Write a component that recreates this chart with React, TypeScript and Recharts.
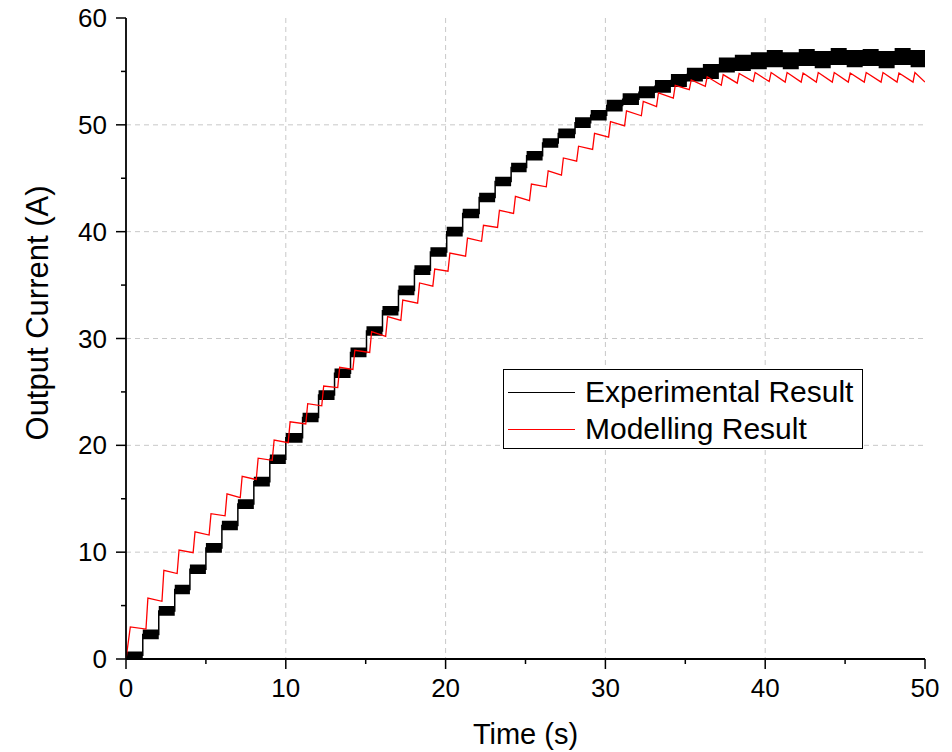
import { Area, CartesianGrid, ComposedChart, Line, XAxis, YAxis } from "recharts";

// experimental result: one step per second
const expStepTimes = [
  0, 1.05, 2.05, 3.05, 4.0, 5.0, 6.0, 7.0, 8.0, 9.0,
  10.0, 11.05, 12.05, 13.05, 14.05, 15.05, 16.05, 17.05, 18.05, 19.05,
  20.07, 21.07, 22.1, 23.1, 24.1, 25.07, 26.07, 27.05, 28.1, 29.08,
  30.08, 31.08, 32.1, 33.1, 34.1, 35.1, 36.1, 37.1, 38.1, 39.1,
  40.1, 41.1, 42.1, 43.1, 44.1, 45.1, 46.1, 47.1, 48.1, 49.1,
];
const expLevels = [
  0.35, 2.3, 4.5, 6.5, 8.4, 10.4, 12.5, 14.5, 16.6, 18.7,
  20.7, 22.6, 24.7, 26.75, 28.7, 30.7, 32.6, 34.5, 36.4, 38.1,
  40.0, 41.7, 43.2, 44.7, 46.0, 47.1, 48.3, 49.2, 50.2, 50.9,
  51.8, 52.4, 53.05, 53.6, 54.15, 54.7, 55.0, 55.6, 55.8, 56.0,
  56.2, 56.0, 56.3, 56.1, 56.4, 56.2, 56.3, 56.1, 56.4, 56.2,
];
// half height of the noisy band on each step
const expNoise = [
  0.35, 0.45, 0.45, 0.45, 0.45, 0.45, 0.45, 0.45, 0.45, 0.45,
  0.45, 0.45, 0.45, 0.45, 0.45, 0.45, 0.45, 0.45, 0.45, 0.45,
  0.45, 0.45, 0.45, 0.45, 0.45, 0.45, 0.45, 0.45, 0.5, 0.5,
  0.55, 0.55, 0.55, 0.6, 0.6, 0.65, 0.7, 0.7, 0.75, 0.8,
  0.8, 0.8, 0.8, 0.8, 0.8, 0.8, 0.8, 0.8, 0.8, 0.8,
];

// modelling result: sawtooth steps, peak after each rise, trough before the next
const modelRiseTimes = [
  0.15, 1.25, 2.25, 3.2, 4.2, 5.2, 6.2, 7.15, 8.15, 9.15,
  10.15, 11.25, 12.25, 13.25, 14.2, 15.25, 16.25, 17.2, 18.25, 19.2,
  20.15, 21.25, 22.25, 23.25, 24.25, 25.25, 26.3, 27.25, 28.2, 29.2,
  30.2, 31.2, 32.25, 33.2, 34.25, 35.25, 36.25, 37.25, 38.25, 39.25,
  40.25, 41.25, 42.25, 43.2, 44.2, 45.2, 46.2, 47.25, 48.25, 49.25,
];
const modelPeaks = [
  3.0, 5.7, 8.3, 10.2, 11.9, 13.6, 15.45, 17.1, 18.8, 20.5,
  22.2, 23.9, 25.55, 27.3, 28.9, 30.65, 32.05, 33.6, 35.2, 36.5,
  38.0, 39.4, 40.6, 42.0, 43.3, 44.45, 45.7, 46.9, 48.0, 49.2,
  50.3, 51.3, 52.2, 53.0, 53.7, 54.2, 54.5, 54.7, 54.8, 54.9,
  54.9, 54.9, 54.85, 54.9, 54.9, 54.85, 54.9, 54.9, 54.85, 54.9,
];
const modelTroughs = [
  2.8, 5.4, 8.0, 9.95, 11.6, 13.4, 15.1, 16.8, 18.6, 20.25,
  22.0, 23.7, 25.4, 27.1, 28.7, 30.2, 31.7, 33.3, 34.9, 36.3,
  37.7, 39.1, 40.4, 41.7, 42.9, 44.2, 45.3, 46.6, 47.7, 48.85,
  49.9, 50.85, 51.7, 52.5, 53.3, 53.6, 53.7, 53.9, 54.05, 54.05,
  54.0, 54.0, 54.0, 54.0, 54.0, 54.0, 54.0, 54.0, 54.0, 54.0,
];

const xTicks = [0, 5, 10, 15, 20, 25, 30, 35, 40, 45, 50];
const yTicks = [0, 5, 10, 15, 20, 25, 30, 35, 40, 45, 50, 55, 60];
const xGrid = [10, 20, 30, 40];
const yGrid = [10, 20, 30, 40, 50];

const FONT = '"Liberation Sans", Arial, sans-serif';
const RISE = 0.12;

const expData = expStepTimes.map((t, i) => ({
  t,
  level: expLevels[i],
  band: [expLevels[i] - expNoise[i], expLevels[i] + expNoise[i]],
}));
const lastExp = expData[expData.length - 1];
expData.push({ ...lastExp, t: 50 });

const modelData: { t: number; current: number }[] = [{ t: 0, current: 0 }];
modelRiseTimes.forEach((rt, i) => {
  modelData.push({ t: rt + RISE, current: modelPeaks[i] });
  const end = i + 1 < modelRiseTimes.length ? modelRiseTimes[i + 1] : 50;
  modelData.push({ t: end, current: modelTroughs[i] });
});

const isMajor = (v: number) => v % 10 === 0;

function BottomTick({ x, y, payload }: any) {
  const major = isMajor(payload.value);
  return (
    <g>
      <line x1={x} x2={x} y1={y} y2={y + (major ? 10 : 5)} stroke="#000" strokeWidth={1.5} />
      {major && (
        <text x={x} y={y + 38} textAnchor="middle" fontSize={26} fontFamily={FONT} fill="#000">
          {payload.value}
        </text>
      )}
    </g>
  );
}

function LeftTick({ x, y, payload }: any) {
  const major = isMajor(payload.value);
  return (
    <g>
      <line x1={x} x2={x - (major ? 10 : 5)} y1={y} y2={y} stroke="#000" strokeWidth={1.5} />
      {major && (
        <text x={x - 19} y={y + 9} textAnchor="end" fontSize={26} fontFamily={FONT} fill="#000">
          {payload.value}
        </text>
      )}
    </g>
  );
}

function TopTick({ x, y, payload }: any) {
  const len = isMajor(payload.value) ? 10 : 5;
  return <line x1={x} x2={x} y1={y} y2={y + len} stroke="#000" strokeWidth={1.5} />;
}

function RightTick({ x, y, payload }: any) {
  const len = isMajor(payload.value) ? 10 : 5;
  return <line x1={x} x2={x - len} y1={y} y2={y} stroke="#000" strokeWidth={1.5} />;
}

function XTitle({ viewBox }: any) {
  return (
    <text x={viewBox.x + viewBox.width / 2} y={viewBox.y + 85} textAnchor="middle" fontSize={29} fontFamily={FONT} fill="#000">
      Time (s)
    </text>
  );
}

function YTitle({ viewBox }: any) {
  const cx = viewBox.x + 29;
  const cy = 305;
  return (
    <text x={cx} y={cy} transform={`rotate(-90 ${cx} ${cy})`} textAnchor="middle" dominantBaseline="central" fontSize={31} fontFamily={FONT} fill="#000">
      Output Current (A)
    </text>
  );
}

function ChartLegend() {
  const row = (color: string, label: string, top: number) => (
    <div style={{ position: "absolute", left: 0, top, height: 30, width: "100%" }}>
      <div style={{ position: "absolute", left: 4, top: 14, width: 67, height: 0, borderTop: `1.5px solid ${color}` }} />
      <span style={{ position: "absolute", left: 81, top: -3, fontSize: 30, lineHeight: "34px", whiteSpace: "nowrap" }}>{label}</span>
    </div>
  );
  return (
    <div
      style={{
        position: "absolute",
        left: 495,
        top: 361,
        width: 358,
        height: 78,
        border: "1px solid #000",
        background: "#fff",
        fontFamily: FONT,
        color: "#000",
      }}
    >
      {row("#000", "Experimental Result", 8)}
      {row("#ff0000", "Modelling Result", 45)}
    </div>
  );
}

export default function App() {
  return (
    <div style={{ position: "relative", width: 936, height: 744, fontFamily: FONT }}>
      <ComposedChart
        width={936}
        height={744}
        margin={{ top: 10, right: 19, bottom: 0, left: 0 }}
        style={{ overflow: "visible" }}
      >
        <CartesianGrid
          horizontalValues={yGrid}
          verticalValues={xGrid}
          stroke="#c8c8c8"
          strokeDasharray="5 4"
        />
        <XAxis
          dataKey="t"
          type="number"
          domain={[0, 50]}
          ticks={xTicks}
          allowDataOverflow
          height={93}
          tickSize={0}
          tickMargin={0}
          tick={<BottomTick />}
          axisLine={{ stroke: "#000", strokeWidth: 1.8 }}
          label={XTitle}
        />
        <XAxis
          xAxisId="top"
          orientation="top"
          type="number"
          domain={[0, 50]}
          ticks={xTicks}
          height={0}
          tickSize={0}
          tickMargin={0}
          tick={<TopTick />}
          axisLine={{ stroke: "#000", strokeWidth: 1.8 }}
        />
        <YAxis
          type="number"
          domain={[0, 60]}
          ticks={yTicks}
          allowDataOverflow
          width={118}
          tickSize={0}
          tickMargin={0}
          tick={<LeftTick />}
          axisLine={{ stroke: "#000", strokeWidth: 1.8 }}
          label={YTitle}
        />
        <YAxis
          yAxisId="right"
          orientation="right"
          type="number"
          domain={[0, 60]}
          ticks={yTicks}
          width={0}
          tickSize={0}
          tickMargin={0}
          tick={<RightTick />}
          axisLine={{ stroke: "#000", strokeWidth: 1.8 }}
        />
        <Area
          data={expData}
          dataKey="band"
          type="stepAfter"
          fill="#000"
          fillOpacity={1}
          stroke="none"
          isAnimationActive={false}
        />
        <Line
          data={expData}
          dataKey="level"
          type="stepAfter"
          stroke="#000"
          strokeWidth={1.5}
          dot={false}
          isAnimationActive={false}
        />
        <Line
          data={modelData}
          dataKey="current"
          type="linear"
          stroke="#ff0000"
          strokeWidth={1.3}
          dot={false}
          isAnimationActive={false}
        />
      </ComposedChart>
      <ChartLegend />
    </div>
  );
}
